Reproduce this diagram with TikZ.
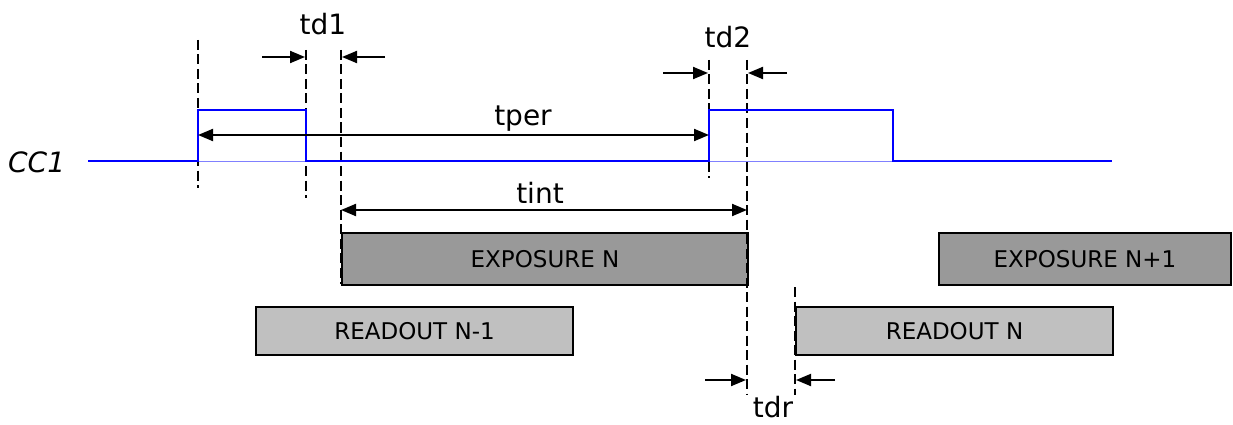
\documentclass[tikz,border=0pt]{standalone}
\usepackage{fontspec}
\setmainfont{DejaVu Sans}
\usetikzlibrary{arrows.meta}
\definecolor{expgray}{HTML}{999999}
\definecolor{readgray}{HTML}{C0C0C0}
\definecolor{sigblue}{HTML}{0000FF}
\definecolor{thinblue}{HTML}{8080FF}
\tikzset{
  dashline/.style={black, line width=2.4pt, dash pattern=on 10pt off 4.5pt},
  sig/.style={sigblue, line width=2.2pt},
  thinsig/.style={thinblue, line width=1pt},
  dimarrow/.style={black, line width=2pt, -{Triangle[length=15pt,width=12pt]}},
  dimboth/.style={black, line width=2pt, {Triangle[length=15pt,width=12pt]}-{Triangle[length=15pt,width=12pt]}},
  lbl/.style={inner sep=0pt, anchor=base, font=\fontsize{28}{32}\selectfont},
  boxbase/.style={draw=black, line width=2pt, inner sep=0pt, anchor=north west, font=\fontsize{23}{27}\selectfont},
  expbox/.style={boxbase, fill=expgray},
  readbox/.style={boxbase, fill=readgray}
}
\begin{document}
\begin{tikzpicture}[x=1pt,y=-1pt]
\useasboundingbox (0,0) rectangle (1233,425);
% boxes
\node[expbox, minimum width=406pt, minimum height=52pt] (expN) at (341,232) {EXPOSURE N};
\node[expbox, minimum width=292pt, minimum height=52pt] (expN1) at (938,232) {EXPOSURE N+1};
\node[readbox, minimum width=317pt, minimum height=48pt] (rdN1) at (255,306) {READOUT N-1};
\node[readbox, minimum width=317pt, minimum height=48pt] (rdN) at (795,306) {READOUT N};
% dashed guide lines
\coordinate (a1) at (198,40);  \coordinate (a2) at (198,188);
\coordinate (b1) at (306,50);  \coordinate (b2) at (306,198);
\coordinate (c1) at (341,50);  \coordinate (c2) at (341,284);
\coordinate (d1) at (709,60);  \coordinate (d2) at (709,178);
\coordinate (e1) at (747,60);  \coordinate (e2) at (747,395);
\coordinate (f1) at (795,287); \coordinate (f2) at (795,395);
\foreach \p in {a,b,c,d,e,f} \draw[dashline] (\p1) -- (\p2);
% signal
\coordinate (s0) at (88,161);
\coordinate (s1) at (198,161); \coordinate (s2) at (198,110);
\coordinate (s3) at (306,110); \coordinate (s4) at (306,161);
\coordinate (s5) at (709,161); \coordinate (s6) at (709,110);
\coordinate (s7) at (893,110); \coordinate (s8) at (893,161);
\coordinate (s9) at (1112,161);
\draw[thinsig] (s1) -- (s4) (s5) -- (s8);
\draw[sig] (s0) -- (s1) -- (s2) -- (s3) -- (s4) -- (s5) -- (s6) -- (s7) -- (s8) -- (s9);
% dimension arrows
\coordinate (tp1) at (198,135); \coordinate (tp2) at (709,135);
\draw[dimboth] (tp1) -- (tp2);
\coordinate (ti1) at (341,210); \coordinate (ti2) at (747,210);
\draw[dimboth] (ti1) -- (ti2);
\coordinate (t1a) at (262,57); \coordinate (t1b) at (305,57);
\coordinate (t1c) at (385,57); \coordinate (t1d) at (342,57);
\draw[dimarrow] (t1a) -- (t1b);
\draw[dimarrow] (t1c) -- (t1d);
\coordinate (t2a) at (663,73); \coordinate (t2b) at (708,73);
\coordinate (t2c) at (787,73); \coordinate (t2d) at (748,73);
\draw[dimarrow] (t2a) -- (t2b);
\draw[dimarrow] (t2c) -- (t2d);
\coordinate (tra) at (705,380); \coordinate (trb) at (746,380);
\coordinate (trc) at (835,380); \coordinate (trd) at (796,380);
\draw[dimarrow] (tra) -- (trb);
\draw[dimarrow] (trc) -- (trd);
% labels
\node[lbl, anchor=base west, font=\fontsize{28}{32}\selectfont\itshape] (cc1) at (8,172) {CC1};
\node[lbl] (ltd1) at (323,35) {td1};
\node[lbl] (ltd2) at (728,48) {td2};
\node[lbl] (ltper) at (523,125) {tper};
\node[lbl] (ltint) at (540,203) {tint};
\node[lbl] (ltdr) at (773,417) {tdr};
\end{tikzpicture}
\end{document}
